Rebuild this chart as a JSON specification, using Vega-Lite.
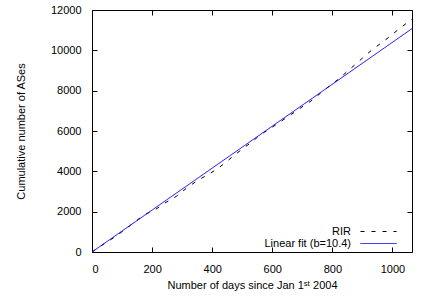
{
  "$schema": "https://vega.github.io/schema/vega-lite/v6.json",
  "width": 320,
  "height": 242,
  "autosize": "none",
  "padding": {"left": 92, "top": 10, "right": 16, "bottom": 48},
  "background": "white",
  "config": {
    "font": "Liberation Sans",
    "view": {"stroke": "black", "strokeWidth": 1},
    "axis": {
      "grid": false,
      "domain": false,
      "tickColor": "black",
      "tickSize": -5,
      "tickWidth": 1,
      "labelFont": "Liberation Sans",
      "labelFontSize": 11,
      "labelColor": "black",
      "titleFont": "Liberation Sans",
      "titleFontSize": 11,
      "titleFontWeight": "normal",
      "titleColor": "black"
    },
    "legend": {"padding": 0}
  },
  "datasets": {
    "series": [
      {"day": 0, "ases": 0, "series": "RIR"},
      {"day": 34, "ases": 347, "series": "RIR"},
      {"day": 66, "ases": 645, "series": "RIR"},
      {"day": 99, "ases": 992, "series": "RIR"},
      {"day": 132, "ases": 1374, "series": "RIR"},
      {"day": 173, "ases": 1835, "series": "RIR"},
      {"day": 212, "ases": 2117, "series": "RIR"},
      {"day": 243, "ases": 2430, "series": "RIR"},
      {"day": 281, "ases": 2762, "series": "RIR"},
      {"day": 318, "ases": 3208, "series": "RIR"},
      {"day": 354, "ases": 3570, "series": "RIR"},
      {"day": 390, "ases": 3868, "series": "RIR"},
      {"day": 421, "ases": 4165, "series": "RIR"},
      {"day": 438, "ases": 4364, "series": "RIR"},
      {"day": 468, "ases": 4726, "series": "RIR"},
      {"day": 499, "ases": 5093, "series": "RIR"},
      {"day": 532, "ases": 5454, "series": "RIR"},
      {"day": 562, "ases": 5836, "series": "RIR"},
      {"day": 582, "ases": 6015, "series": "RIR"},
      {"day": 616, "ases": 6347, "series": "RIR"},
      {"day": 649, "ases": 6679, "series": "RIR"},
      {"day": 681, "ases": 7006, "series": "RIR"},
      {"day": 712, "ases": 7324, "series": "RIR"},
      {"day": 729, "ases": 7488, "series": "RIR"},
      {"day": 760, "ases": 7869, "series": "RIR"},
      {"day": 790, "ases": 8231, "series": "RIR"},
      {"day": 821, "ases": 8578, "series": "RIR"},
      {"day": 851, "ases": 8975, "series": "RIR"},
      {"day": 877, "ases": 9307, "series": "RIR"},
      {"day": 903, "ases": 9654, "series": "RIR"},
      {"day": 934, "ases": 10051, "series": "RIR"},
      {"day": 966, "ases": 10398, "series": "RIR"},
      {"day": 996, "ases": 10745, "series": "RIR"},
      {"day": 1023, "ases": 11073, "series": "RIR"},
      {"day": 1053, "ases": 11420, "series": "RIR"},
      {"day": 1065, "ases": 11550, "series": "RIR"},
      {"day": 0, "ases": 0, "series": "Linear fit (b=10.4)"},
      {"day": 1065, "ases": 11076, "series": "Linear fit (b=10.4)"}
    ]
  },
  "layer": [
    {
      "data": {"name": "series"},
      "mark": {"type": "line", "strokeWidth": 1},
      "encoding": {
        "x": {
          "field": "day",
          "type": "quantitative",
          "scale": {"domain": [0, 1065], "nice": false, "zero": false},
          "axis": {
            "values": [0, 200, 400, 600, 800, 1000],
            "format": "d",
            "title": "Number of days since Jan 1ˢᵗ 2004",
            "labelPadding": 16,
            "titlePadding": 5
          }
        },
        "y": {
          "field": "ases",
          "type": "quantitative",
          "scale": {"domain": [0, 12000], "nice": false},
          "axis": {
            "values": [0, 2000, 4000, 6000, 8000, 10000, 12000],
            "format": "d",
            "title": "Cumulative number of ASes",
            "labelPadding": 16,
            "titlePadding": 24
          }
        },
        "color": {
          "field": "series",
          "type": "nominal",
          "scale": {"domain": ["RIR", "Linear fit (b=10.4)"], "range": ["black", "#0000ff"]},
          "legend": {
            "title": null,
            "orient": "none",
            "legendX": 280,
            "legendY": 215,
            "symbolType": "M-3,0H3",
            "symbolSize": 144,
            "symbolStrokeWidth": 1,
            "labelAlign": "right",
            "labelOffset": -34,
            "labelFontSize": 11,
            "labelColor": "black",
            "rowPadding": 0
          }
        },
        "strokeDash": {
          "field": "series",
          "type": "nominal",
          "scale": {"domain": ["RIR", "Linear fit (b=10.4)"], "range": [[4, 7], [1, 0]]},
          "legend": {
            "title": null,
            "orient": "none",
            "legendX": 280,
            "legendY": 215,
            "symbolType": "M-3,0H3",
            "symbolSize": 144,
            "symbolStrokeWidth": 1,
            "labelAlign": "right",
            "labelOffset": -34,
            "labelFontSize": 11,
            "labelColor": "black",
            "rowPadding": 0
          }
        }
      }
    },
    {
      "data": {"name": "series"},
      "mark": {"type": "point", "opacity": 0},
      "encoding": {
        "x": {
          "field": "day",
          "type": "quantitative",
          "axis": {"orient": "top", "values": [0, 200, 400, 600, 800, 1000], "labels": false, "title": null}
        },
        "y": {
          "field": "ases",
          "type": "quantitative",
          "axis": {"orient": "right", "values": [0, 2000, 4000, 6000, 8000, 10000, 12000], "labels": false, "title": null}
        }
      }
    }
  ],
  "resolve": {"axis": {"x": "independent", "y": "independent"}}
}
